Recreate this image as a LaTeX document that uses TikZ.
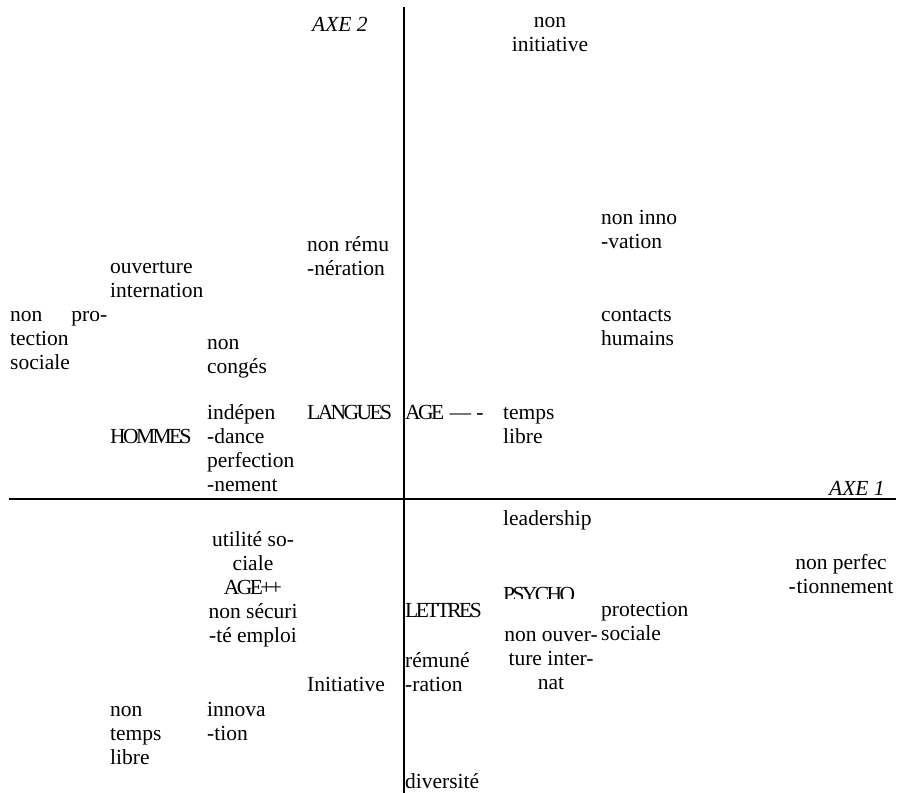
\documentclass[tikz,border=0pt]{standalone}
\usepackage{fontspec}
\setmainfont{Liberation Serif}
\newfontfamily\tightfont[LetterSpace=-12]{Liberation Serif}
\tikzset{
  lbl/.style={anchor=base west, inner sep=0pt, align=left},
  clbl/.style={anchor=base, inner sep=0pt, align=center},
  axis/.style={line width=2pt}
}

\begin{document}
\begin{tikzpicture}[x=1pt, y=-1pt, font=\fontsize{21.5}{24}\selectfont]
\useasboundingbox (0,0) rectangle (898,793);
% axes
\coordinate (vtop) at (404,7);
\coordinate (vbot) at (404,793);
\coordinate (hleft) at (9,499);
\coordinate (hright) at (896,499);
\draw[axis] (vtop) -- (vbot);
\draw[axis] (hleft) -- (hright);
\node[lbl] (axe2) at (312,31) {\itshape AXE 2};
\node[lbl] (axe1) at (829,495) {\itshape AXE 1};

% upper left (nodes placed by the baseline of their last line)
\node[lbl] (nonremu) at (307,275) {non rému\\-nération};
\node[lbl] (ouverture) at (110,297) {ouverture\\internation};
\node[lbl] (nonprot) at (10,369) {\makebox[97pt][l]{non\hfill pro-}\\tection\\sociale};
\node[lbl] (noncong) at (207,373) {non\\congés};
\node[lbl] (indep) at (207,491) {indépen\\-dance\\perfection\\-nement};
\node[lbl] (hommes) at (110,443) {\tightfont HOMMES};
\node[lbl] (langues) at (307,419) {\tightfont LANGUES};

% upper right
\node[clbl] (noninit) at (550,51) {non\\initiative};
\node[lbl] (noninno) at (601,248) {non inno\\-vation};
\node[lbl] (contacts) at (601,345) {contacts\\humains};
\node[lbl] (ageminus) at (405,419) {{\tightfont AGE} — -};
\node[lbl] (tempslibre) at (503,443) {temps\\libre};

% lower left
\node[clbl] (utilite) at (253,642) {utilité so-\\ciale\\{\tightfont AGE++}\\non sécuri\\-té emploi};
\node[lbl] (initiative) at (307,691) {Initiative};
\node[lbl] (nontemps) at (110,764) {non\\temps\\libre};
\node[lbl] (innovation) at (207,740) {innova\\-tion};

% lower right
\node[lbl] (leadership) at (503,525) {leadership};
\node[clbl] (nonperf) at (841,593) {non perfec\\-\kern1pt tionnement};
\begin{scope}
  \clip (490,570) rectangle (620,598);
  \node[lbl] (psycho) at (503,601) {\tightfont PSYCHO};
\end{scope}
\node[lbl] (lettres) at (405,617) {\tightfont LETTRES};
\node[lbl] (protection) at (601,640) {protection\\sociale};
\node[clbl] (nonouv) at (551,689) {non ouver-\\ture inter-\\nat};
\node[lbl] (remun) at (405,691) {rémuné\\-ration};
\node[lbl] (diversite) at (405,788) {diversité};
\end{tikzpicture}
\end{document}
